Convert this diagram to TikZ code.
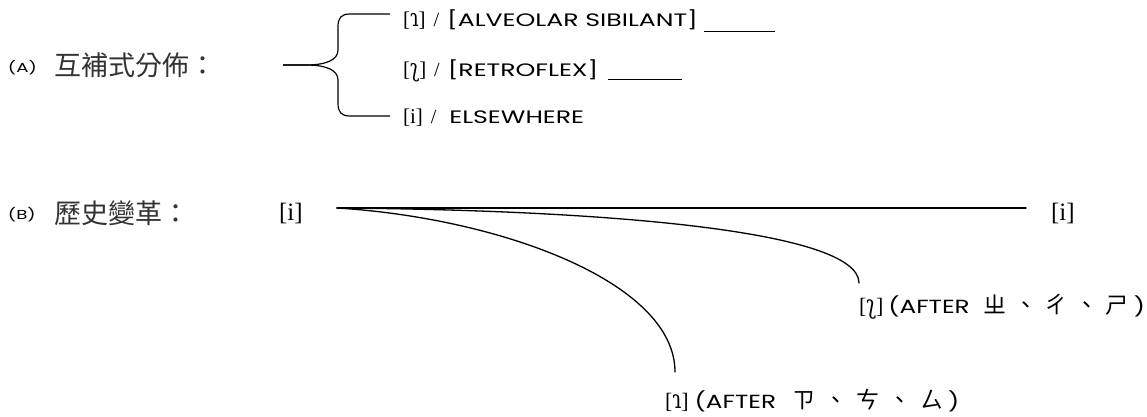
\documentclass[tikz,border=0pt]{standalone}
\usepackage{graphicx}
\usepackage{fontspec}
\setmainfont{Liberation Serif}
\newfontfamily\myipaglyph{DejaVu Serif}
\newfontfamily\myscfam{Poppins}[FakeStretch=1.4]
\newfontfamily\myaftfam{Poppins}[FakeStretch=1.3]
\newfontfamily\mycjkfam{Noto Sans CJK TC}
\newcommand\myipa[1]{\fontsize{#1}{#1}\selectfont}
\newcommand\mysc[1]{\myscfam\fontsize{#1}{#1}\selectfont}
\newcommand\myaft[1]{\myaftfam\fontsize{#1}{#1}\selectfont}
\newcommand\mycjk[1]{\mycjkfam\fontsize{#1}{#1}\selectfont}
\newcommand\retro[1]{\scalebox{1}[1.3]{\myipaglyph\fontsize{#1}{#1}\selectfont ʅ}}
\newcommand\apic[1]{\scalebox{1}[1.3]{\myipaglyph\fontsize{#1}{#1}\selectfont ɿ}}
\newcommand\gap{\hspace{7.5pt}}
\newcommand\slsh{{\fontsize{20}{20}\selectfont /}}
\tikzset{
  txt/.style={anchor=base west, inner sep=0pt, outer sep=0pt},
  cjktxt/.style={anchor=west, inner sep=0pt, outer sep=0pt, text=black!80},
  stroke/.style={line width=1.3pt, line cap=round},
  bracestroke/.style={line width=1.2pt, line join=round},
}
\begin{document}
\begin{tikzpicture}[x=1pt, y=-1pt]
\useasboundingbox (0,0) rectangle (1147,417);

% ---------- (A) complementary distribution ----------
\node[txt] (A) at (8,73) {\mysc{13}(A)};
\node[cjktxt] (Atxt) at (54,65) {\mycjk{27}互補式分佈：};

\coordinate (btip) at (283,65);
\coordinate (btop) at (390,14);
\coordinate (bbot) at (390,116);
\draw[bracestroke] (btop) -- (350,14) .. controls (341,14) and (338,18) .. (338,27)
  -- (338,50) .. controls (338,60) and (326,65) .. (306,65) -- (btip);
\draw[bracestroke] (btip) -- (306,65) .. controls (326,65) and (338,70) .. (338,80)
  -- (338,103) .. controls (338,112) and (341,116) .. (350,116) -- (bbot);

\node[txt] (l1) at (403,27) {\myipa{21}[\apic{19}]\hspace{8pt}\slsh\hspace{8pt}\mysc{18}[ALVEOLAR SIBILANT]\hspace{6pt}\rule[-5pt]{71pt}{0.9pt}};
\node[txt] (l2) at (403,77) {\myipa{21}[\retro{19}]\hspace{8pt}\slsh\hspace{8pt}\mysc{18}[RETROFLEX]\hspace{10pt}\rule[-3pt]{74pt}{0.9pt}};
\node[txt] (l3) at (403,123) {\myipa{21}[i]\hspace{8pt}\slsh\hspace{13pt}\mysc{18}ELSEWHERE};

% ---------- (B) historical change ----------
\node[txt] (B) at (8,219) {\mysc{13}(B)};
\node[cjktxt] (Btxt) at (54,213) {\mycjk{27}歷史變革：};

\node[txt] (iL) at (279,220) {\myipa{25}[i]};
\node[txt] (iR) at (1051,220) {\myipa{25}[i]};

\coordinate (S) at (337,208);
\coordinate (E1) at (1026,208);
\coordinate (E2) at (859,283);
\coordinate (E3) at (675,372);

\draw[stroke] (S) -- (E1);
\draw[stroke] (S) .. controls (600,210) and (859,230) .. (E2);
\draw[stroke] (S) .. controls (500,218) and (675,282) .. (E3);

\node[txt] (L2) at (859,313) {\myipa{22}[\retro{20}]\hspace{5pt}\myaft{19}(AFTER\hspace{14pt}\mycjk{23}ㄓ\gap 、\gap ㄔ\gap 、\gap ㄕ\hspace{5pt}\myaft{19})};
\node[txt] (L3) at (665,408) {\myipa{22}[\apic{20}]\hspace{6pt}\myaft{19}(AFTER\hspace{16pt}\mycjk{23}ㄗ\hspace{9pt}、\hspace{9pt}ㄘ\hspace{9pt}、\hspace{9pt}ㄙ\hspace{5pt}\myaft{19})};
\end{tikzpicture}
\end{document}
